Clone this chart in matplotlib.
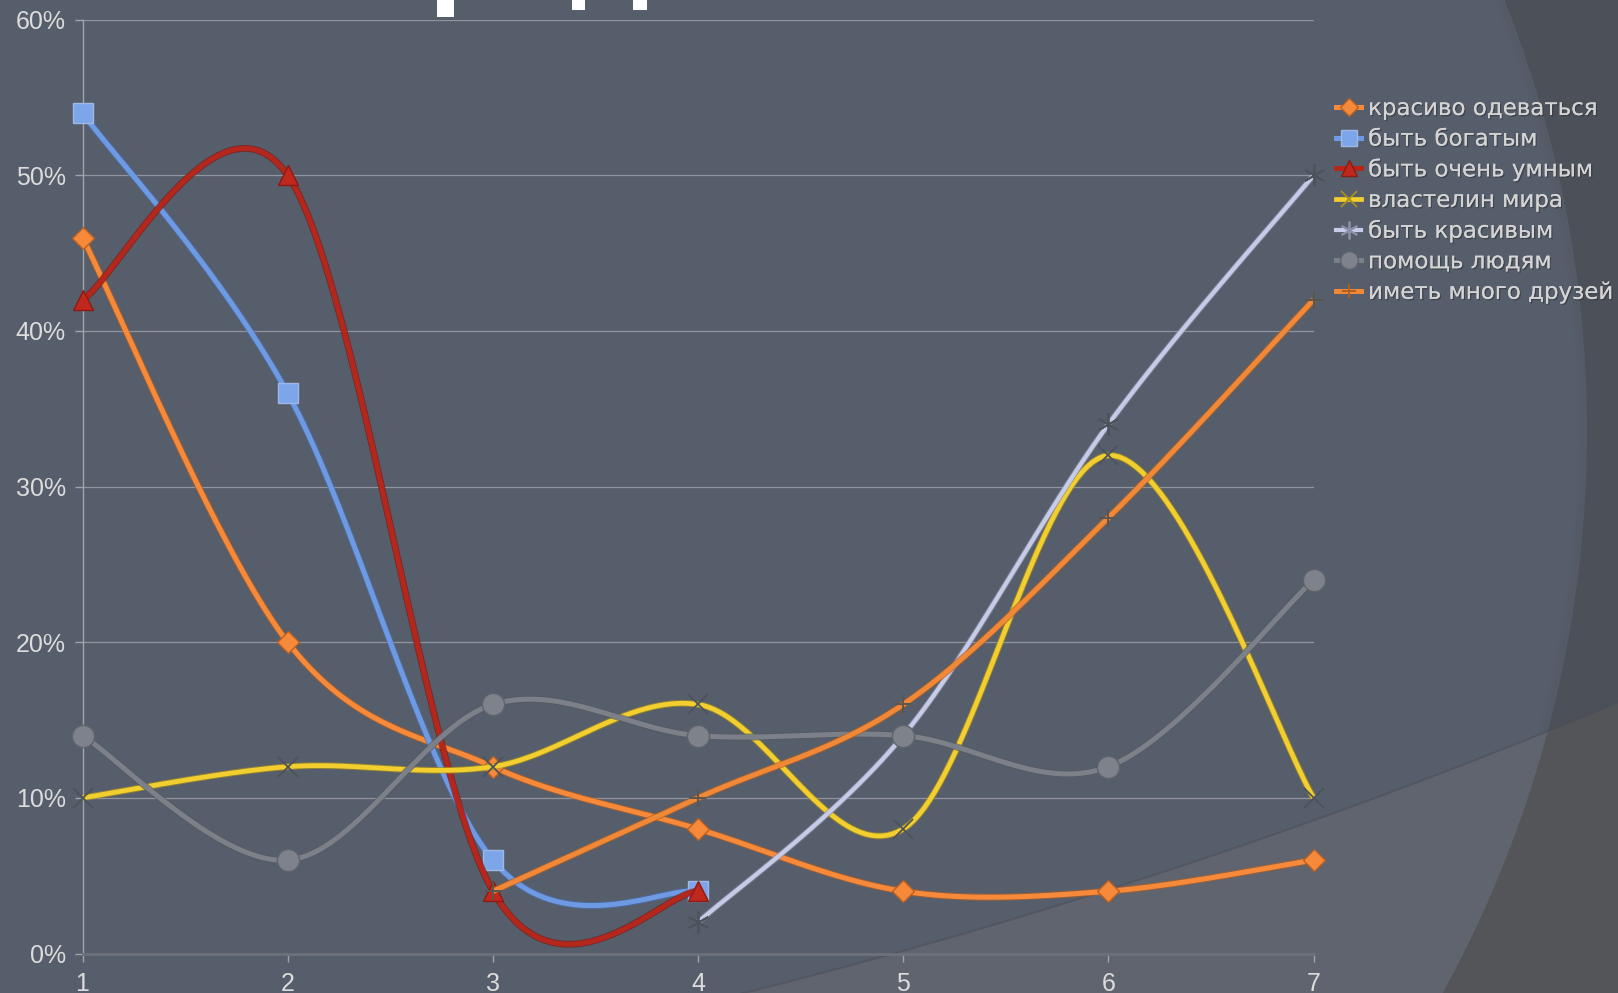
import numpy as np
import matplotlib
matplotlib.use("Agg")
import matplotlib.pyplot as plt
from matplotlib.patches import Circle, Polygon, Rectangle
from matplotlib.lines import Line2D
import matplotlib.patheffects as pe

# ---------------- data ----------------
categories = [1, 2, 3, 4, 5, 6, 7]
series_names = ["красиво одеваться", "быть богатым", "быть очень умным",
                "властелин мира", "быть красивым", "помощь людям",
                "иметь много друзей"]
nan = np.nan
krasivo_odevatsya = [46, 20, 12, 8, 4, 4, 6]
byt_bogatym = [54, 36, 6, 4, nan, nan, nan]
byt_umnym = [42, 50, 4, 4, nan, nan, nan]
vlastelin_mira = [10, 12, 12, 16, 8, 32, 10]
byt_krasivym = [nan, nan, nan, 2, 14, 34, 50]
pomosch_lyudyam = [14, 6, 16, 14, 14, 12, 24]
mnogo_druzey = [nan, nan, 4, 10, 16, 28, 42]
y_ticks = [0, 10, 20, 30, 40, 50, 60]

W, H = 1618, 993
fig = plt.figure(figsize=(W / 100, H / 100), dpi=100)

# ---------------- background decoration ----------------
bg = fig.add_axes([0, 0, 1, 1], zorder=-10)
bg.set_xlim(0, W)
bg.set_ylim(H, 0)
bg.axis("off")
bg.add_patch(Rectangle((0, 0), W, H, facecolor="#4c5058", edgecolor="none"))
c1 = Circle((420, 431), 1167, facecolor="#575e6b", edgecolor="none")
bg.add_patch(c1)
for k, a in enumerate([0.10, 0.07, 0.04]):
    bg.add_patch(Circle((420, 431), 1167 - 2 - 3 * k, facecolor="none",
                        edgecolor="#3e424a", lw=2.5, alpha=a))
# lower-right lighter band (outside of a huge circle)
cx2, cy2, r2 = -728.5, -4892.6, 6067.0
xs_arc = np.linspace(650, W, 200)
ys_arc = cy2 + np.sqrt(r2 ** 2 - (xs_arc - cx2) ** 2)
poly_pts = np.vstack([np.column_stack([xs_arc, ys_arc]), [[W, H + 50], [650, H + 50]]])
bg.add_patch(Polygon(poly_pts, closed=True, facecolor="#545559", edgecolor="none"))
p_in = Polygon(poly_pts, closed=True, facecolor="#60646e", edgecolor="none")
bg.add_patch(p_in)
p_in.set_clip_path(c1)
bg.plot(xs_arc, ys_arc, color="#4a4e57", lw=1.5, alpha=0.5)

# cut-off title fragments at the top
for (x0, x1, y1) in [(437, 454, 17), (572, 585, 10), (633, 647, 10)]:
    bg.add_patch(Rectangle((x0, 0), x1 - x0, y1, facecolor="white", edgecolor="none"))

# ---------------- chart ----------------
left, right = 82.5, 1313.6
top, bottom = 19.6, 953.5
ax = fig.add_axes([left / W, 1 - bottom / H, (right - left) / W, (bottom - top) / H])
ax.set_facecolor("none")
ax.set_xlim(1, 7)
ax.set_ylim(0, 60)


def smooth(xs, ys, n=40):
    P = np.column_stack([xs, ys]).astype(float)
    out = []
    for i in range(len(P) - 1):
        p0 = P[i - 1] if i > 0 else P[i]
        p1, p2 = P[i], P[i + 1]
        p3 = P[i + 2] if i + 2 < len(P) else P[i + 1]
        q1 = p1 + (p2 - p0) / 6.0
        q2 = p2 - (p3 - p1) / 6.0
        t = np.linspace(0, 1, n)[:, None]
        seg = (1 - t) ** 3 * p1 + 3 * (1 - t) ** 2 * t * q1 + 3 * (1 - t) * t ** 2 * q2 + t ** 3 * p2
        out.append(seg if i == 0 else seg[1:])
    return np.vstack(out)


series = [
    dict(v=krasivo_odevatsya, color="#f78a3a", edge="#b35f22", marker="D", ms=11, mfc="#f78a3a", mec="#b86024", mew=1.0, lw=3.6),
    dict(v=byt_bogatym, color="#6e9ae4", edge="#4b6fae", marker="s", ms=14, mfc="#7da6ea", mec="#9fb8e6", mew=1.0, lw=3.6),
    dict(v=byt_umnym, color="#b5261c", edge="#7d1a13", marker="^", ms=15, mfc="#c0281d", mec="#8a1b14", mew=1.0, lw=3.6),
    dict(v=vlastelin_mira, color="#f2cf2e", edge="#a88f1e", marker="x", ms=14, mfc="#4d525b", mec="#4d525b", mew=1.3, lw=3.4),
    dict(v=byt_krasivym, color="#c6cbe8", edge="#8c90a8", marker=(6, 2, 0), ms=16, mfc="#4d525b", mec="#4d525b", mew=1.3, lw=3.0),
    dict(v=pomosch_lyudyam, color="#7b8089", edge="#555962", marker="o", ms=16, mfc="#7d828b", mec="#5f636b", mew=1.0, lw=3.6),
    dict(v=mnogo_druzey, color="#f08838", edge="#b0601f", marker="+", ms=13, mfc="#5a5650", mec="#5a5650", mew=1.4, lw=3.6),
]

handles = []
x_arr = np.array(categories, dtype=float)
for i, s in enumerate(series):
    v = np.array(s["v"], dtype=float)
    m = ~np.isnan(v)
    xs, ys = x_arr[m], v[m]
    curve = smooth(xs, ys)
    z = 3 + i
    ax.plot(curve[:, 0], curve[:, 1], color=s["color"], lw=s["lw"], solid_capstyle="butt",
            zorder=z, clip_on=False,
            path_effects=[pe.Stroke(linewidth=s["lw"] + 1.4, foreground=s["edge"], alpha=0.7), pe.Normal()])
    ax.plot(xs, ys, linestyle="none", marker=s["marker"], ms=s["ms"], mfc=s["mfc"],
            mec=s["mec"], mew=s["mew"], zorder=z + 0.5, clip_on=False)
    thin = s["marker"] in ("x", "+", (6, 2, 0))
    handles.append(Line2D([0], [0], color=s["color"], lw=s["lw"], marker=s["marker"],
                          ms=s["ms"] * 0.8, mfc=s["color"] if thin else s["mfc"],
                          mec=s["edge"] if thin else s["mec"], mew=s["mew"]))

# grid and axes styling
ax.set_yticks(y_ticks)
ax.set_yticklabels([f"{t}%" for t in y_ticks])
ax.set_xticks(categories)
ax.set_xticklabels([str(c) for c in categories])
for t in y_ticks[1:]:
    ax.axhline(t, color="#9ea2aa", lw=0.9, alpha=0.8, zorder=1)
for sp in ["top", "right"]:
    ax.spines[sp].set_visible(False)
ax.spines["left"].set_color("#a0a4ac")
ax.spines["left"].set_linewidth(1.0)
ax.spines["bottom"].set_color("#6c717b")
ax.spines["bottom"].set_linewidth(2.0)
ax.tick_params(axis="y", length=6, width=1, color="#a0a4ac", pad=6,
               labelsize=18, labelcolor="#dcdcdc")
ax.tick_params(axis="x", length=6, width=1, color="#a0a4ac", pad=7.5,
               labelsize=18, labelcolor="#dcdcdc")
for lab in ax.get_xticklabels() + ax.get_yticklabels():
    lab.set_family("Liberation Sans")

leg = fig.legend(handles, series_names, loc="upper left",
                 bbox_to_anchor=(1336 / W, 1 - 97 / H), bbox_transform=fig.transFigure,
                 frameon=False, fontsize=16.5, labelcolor="#d4d4d4",
                 handlelength=1.1, handletextpad=0.3, labelspacing=0.33,
                 borderpad=0, borderaxespad=0)
for txt in leg.get_texts():
    txt.set_path_effects([pe.withSimplePatchShadow(offset=(1, -1), shadow_rgbFace="#30333a", alpha=0.6), pe.Normal()])

fig.savefig("out.png", dpi=100, facecolor=fig.get_facecolor())
